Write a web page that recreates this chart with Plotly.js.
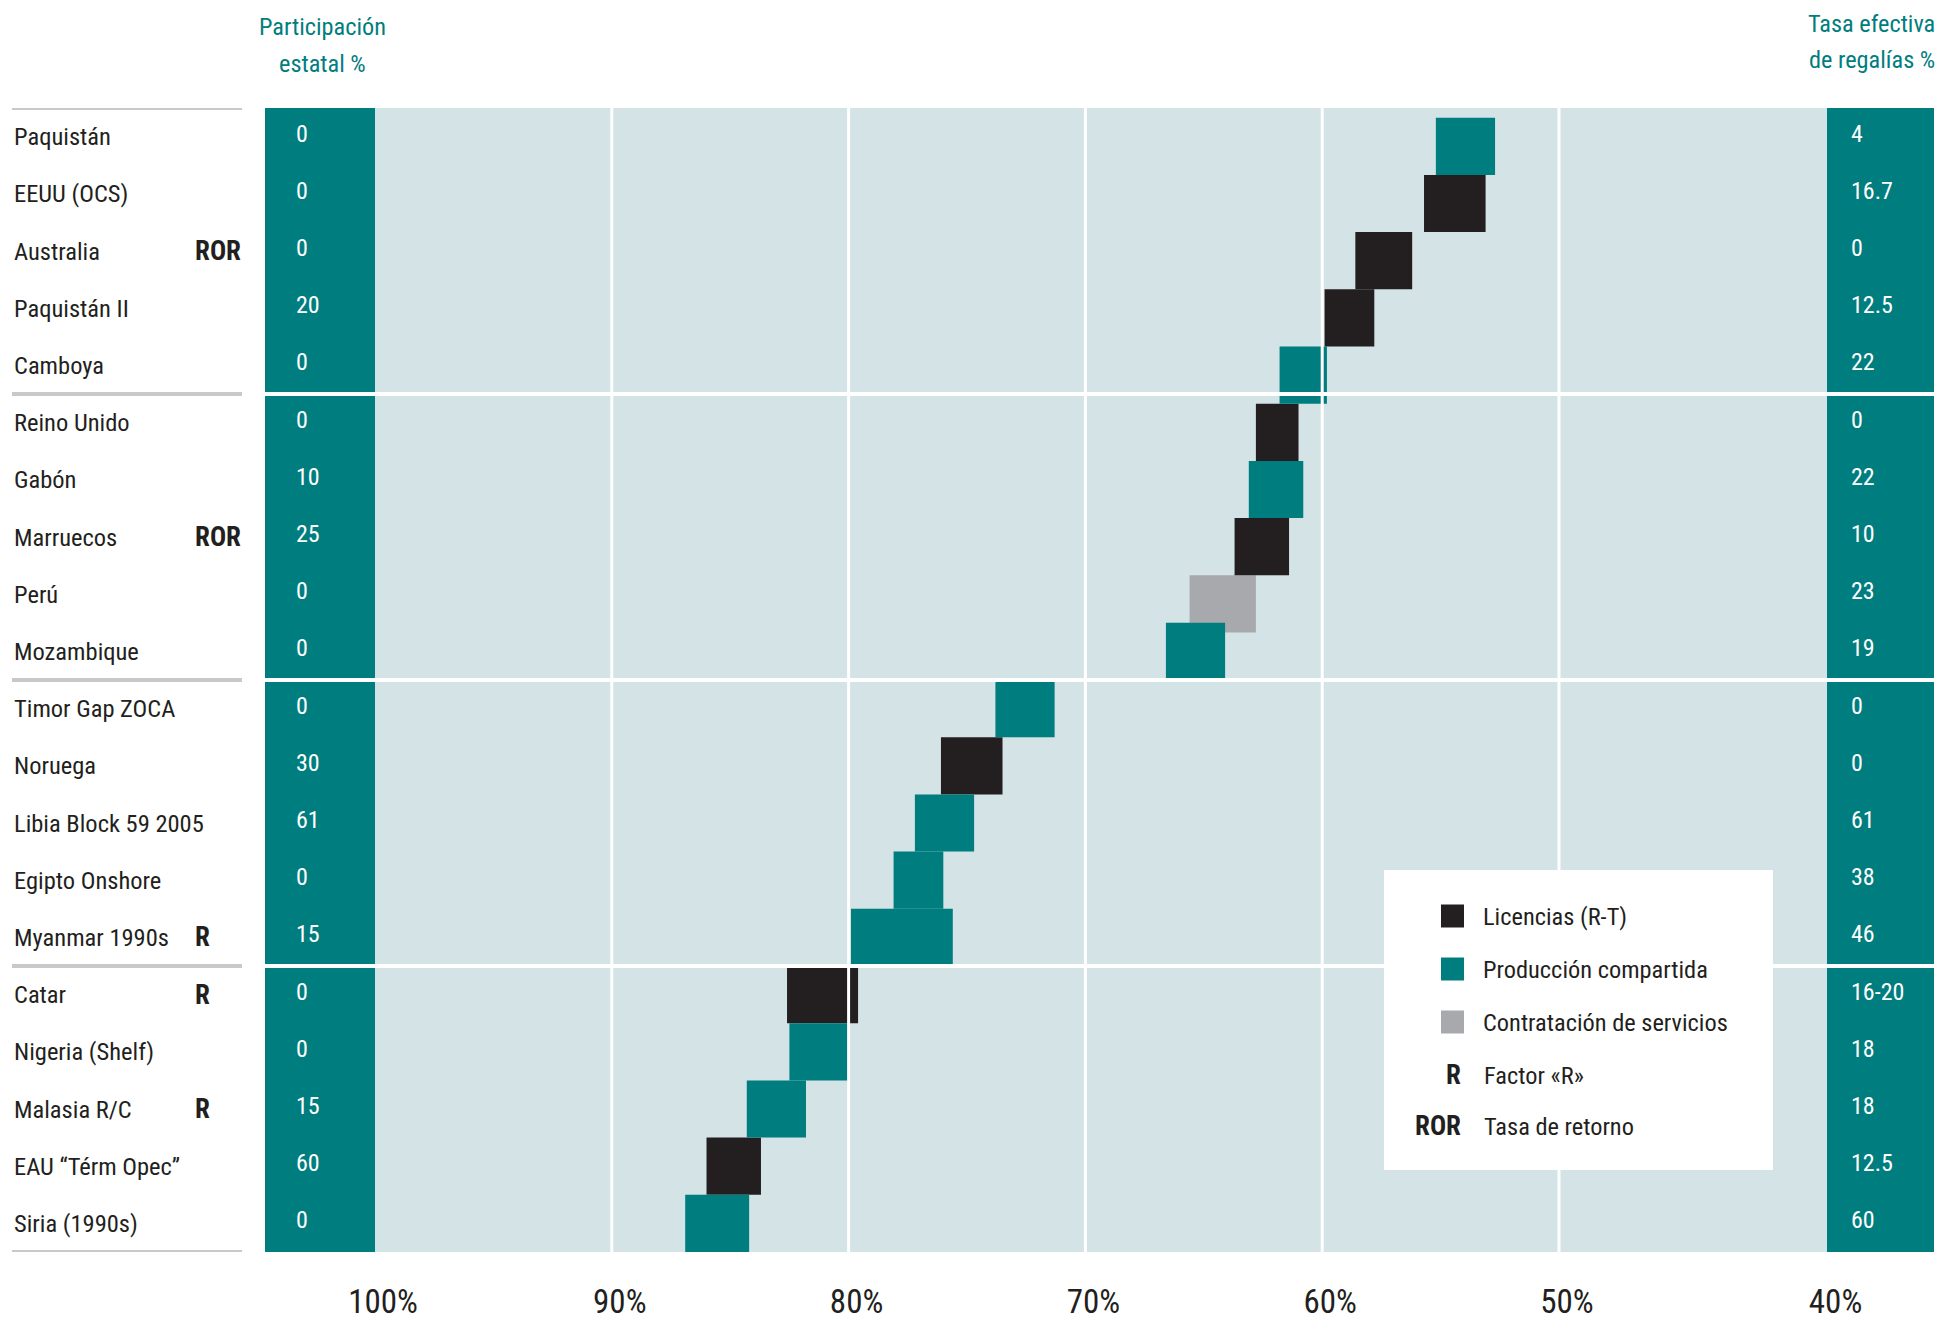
<!DOCTYPE html>
<html>
<head>
<meta charset="utf-8">
<script src="https://cdn.plot.ly/plotly-3.0.1.min.js"></script>
<style>html,body{margin:0;padding:0;background:#fff;}#chart{width:1940px;height:1322px;}</style>
</head>
<body>
<div id="chart"></div>
<script>
// ---------- data ----------
const countries = ['Paquistán','EEUU (OCS)','Australia','Paquistán II','Camboya',
  'Reino Unido','Gabón','Marruecos','Perú','Mozambique',
  'Timor Gap ZOCA','Noruega','Libia Block 59 2005','Egipto Onshore','Myanmar 1990s',
  'Catar','Nigeria (Shelf)','Malasia R/C','EAU “Térm Opec”','Siria (1990s)'];
const flags = ['','','ROR','','', '','','ROR','','', '','','','','R', 'R','','R','',''];
// L = Licencias (R-T), PC = Producción compartida, CS = Contratación de servicios
const regime = ['PC','L','L','L','PC', 'L','PC','L','CS','PC', 'PC','L','PC','PC','PC', 'L','PC','PC','L','PC'];
const takeLow  = [52.7,53.1,56.2,57.8,59.8, 61.0,60.8,61.4,62.8,64.1, 71.3,73.5,74.7,76.0,75.6, 79.6,80.0,81.8,83.7,84.2];
const takeHigh = [55.2,55.7,58.6,59.9,61.8, 62.8,63.1,63.7,65.6,66.6, 73.8,76.1,77.2,78.1,79.9, 82.6,82.5,84.3,86.0,86.9];
const stateShare  = ['0','0','0','20','0', '0','10','25','0','0', '0','30','61','0','15', '0','0','15','60','0'];
const royaltyRate = ['4','16.7','0','12.5','22', '0','22','10','23','19', '0','0','61','38','46', '16-20','18','18','12.5','60'];
const groupStarts = [5,10,15];
const tickValues = [100,90,80,70,60,50,38.66];
const tickLabels = ['100%','90%','80%','70%','60%','50%','40%'];
const regimeKeys = ['L','PC','CS'];
const regimeNames = ['Licencias (R-T)','Producción compartida','Contratación de servicios'];
const codeKeys = ['R','ROR'];
const codeNames = ['Factor «R»','Tasa de retorno'];
const leftTitleLines = ['Participación','estatal %'];
const rightTitleLines = ['Tasa efectiva','de regalías %'];

// ---------- font selection (narrow face with a regular/light weight) ----------
const cv = document.createElement('canvas').getContext('2d');
function tw(fam, size, txt, wt){ cv.font = (wt||400) + ' ' + size + 'px ' + fam; return cv.measureText(txt).width; }
function installed(name){
  const s='mmmmmmmmmmlli1WQ';
  return tw('"'+name+'", monospace',40,s)!==tw('monospace',40,s) || tw('"'+name+'", serif',40,s)!==tw('serif',40,s);
}
const options = [
  {f:'Liberation Sans Narrow', w:400},
  {f:'Roboto Condensed', w:400},
  {f:'Noto Sans Condensed', w:400},
  {f:'Open Sans Condensed', w:300},
  {f:'DejaVu Sans Condensed', w:400}
];
let pick = {f:'DejaVu Sans Condensed', w:400};
for(const o of options){
  if(!installed(o.f)) continue;
  const fm='"'+o.f+'"', s='Libia Block 59 2005 Contratación';
  if(tw(fm,40,s,o.w)!==tw(fm,40,s,700)){ pick=o; break; }
}
const FONT = '"'+pick.f+'","DejaVu Sans Condensed",sans-serif';
const WT = pick.w;
function fit(txt, target, maxSize, wt){ const w = tw(FONT, 100, txt, wt||WT); return Math.min(maxSize, Math.floor(100*target/w*10)/10); }
const SZ_LABEL = fit('Libia Block 59 2005', 190, 29);
const SZ_FLAG  = fit('ROR', 46, 29, 700);
const SZ_VAL   = fit('16.7', 42, 29);
const SZ_TITLE = fit('Participación', 127, 29);
const SZ_LEG   = fit('Contratación de servicios', 245, 29);
const SZ_TICK  = fit('100%', 70, 33);

// ---------- style ----------
const TEAL='#007d7e', BLACK='#231f20', GRAY='#a7a9ac', LIGHT='#d3e3e6', SEP='#c8c9ca';
const regimeColors = {L:BLACK, PC:TEAL, CS:GRAY};
const drawOrder = ['CS','L','PC'];
const W=1940, H=1322, ML=0, MR=6, MT=108, MB=70;
const PW=W-ML-MR, PH=H-MT-MB;
const px = x => (x-ML)/PW;
const py = y => (H-MB-y)/PH;
const fnt = (size, color, wt) => ({family:FONT, size:size, color:color, weight:wt||WT});
// in the upper half the boxes sit slightly low in their rows (the last one rests on the divider)
const rowOffset = i => (i < groupStarts[1]-1 ? -0.33 : -0.5);

// ---------- traces ----------
const traces = drawOrder.map(k=>{
  const idx = countries.map((c,i)=>i).filter(i=>regime[i]===k);
  return {
    type:'bar', orientation:'h', name:regimeNames[regimeKeys.indexOf(k)],
    y: idx.map(i=>countries[i]),
    base: idx.map(i=>takeLow[i]),
    x: idx.map(i=>+(takeHigh[i]-takeLow[i]).toFixed(2)),
    width: 1, offset: idx.map(rowOffset),
    marker:{color:regimeColors[k], line:{width:0}},
    hoverinfo:'skip', showlegend:false
  };
});

// ---------- shapes ----------
const shapes = [];
shapes.push({type:'rect', xref:'paper', yref:'paper', x0:px(265), x1:px(375), y0:0, y1:1, fillcolor:TEAL, line:{width:0}, layer:'below'});
shapes.push({type:'rect', xref:'paper', yref:'paper', x0:px(375), x1:px(1827), y0:0, y1:1, fillcolor:LIGHT, line:{width:0}, layer:'below'});
shapes.push({type:'rect', xref:'paper', yref:'paper', x0:px(1827), x1:1, y0:0, y1:1, fillcolor:TEAL, line:{width:0}, layer:'below'});
[90,80,70,60,50].forEach(v=>shapes.push({type:'line', xref:'x', yref:'paper', x0:v, x1:v, y0:0, y1:1, line:{color:'#ffffff', width:3}, layer:'above'}));
groupStarts.forEach(g=>shapes.push({type:'line', xref:'paper', yref:'y', x0:px(265), x1:1, y0:g-0.5, y1:g-0.5, line:{color:'#ffffff', width:4}, layer:'above'}));
[0].concat(groupStarts).concat([countries.length]).forEach(g=>shapes.push({type:'line', xref:'paper', yref:'y', x0:px(12), x1:px(242), y0:g-0.5, y1:g-0.5, line:{color:SEP, width:4}}));

// ---------- annotations ----------
const ann = [];
countries.forEach((c,i)=>{
  ann.push({xref:'paper', yref:'y', x:px(12), y:c, xanchor:'left', yanchor:'middle', text:c, showarrow:false, font:fnt(SZ_LABEL,BLACK)});
  if(flags[i]) ann.push({xref:'paper', yref:'y', x:px(193), y:c, xanchor:'left', yanchor:'middle', text:flags[i], showarrow:false, font:fnt(SZ_FLAG,BLACK,700)});
  ann.push({xref:'paper', yref:'y', x:px(294), y:c, xanchor:'left', yanchor:'middle', yshift:3, text:stateShare[i], showarrow:false, font:fnt(SZ_VAL,'#ffffff')});
  ann.push({xref:'paper', yref:'y', x:px(1849), y:c, xanchor:'left', yanchor:'middle', yshift:3, text:royaltyRate[i], showarrow:false, font:fnt(SZ_VAL,'#ffffff')});
});
const leftTitleY = [27, 64], rightTitleY = [23.5, 59.5];
leftTitleLines.forEach((t,i)=>ann.push({xref:'paper', yref:'paper', x:px(322), y:py(leftTitleY[i]), xanchor:'center', yanchor:'middle', text:t, showarrow:false, font:fnt(SZ_TITLE,TEAL)}));
rightTitleLines.forEach((t,i)=>ann.push({xref:'paper', yref:'paper', x:px(1937), y:py(rightTitleY[i]), xanchor:'right', yanchor:'middle', text:t, showarrow:false, font:fnt(SZ_TITLE,TEAL)}));

// legend box
shapes.push({type:'rect', xref:'paper', yref:'paper', x0:px(1384), x1:px(1773), y0:py(1170), y1:py(870), fillcolor:'#ffffff', line:{width:0}, layer:'above'});
const legY0 = 916, legStep = 53;
regimeKeys.forEach((k,ki)=>{
  const cy = legY0 + ki*legStep;
  shapes.push({type:'rect', xref:'paper', yref:'paper', x0:px(1441), x1:px(1464), y0:py(cy+11.5), y1:py(cy-11.5), fillcolor:regimeColors[k], line:{width:0}, layer:'above'});
  ann.push({xref:'paper', yref:'paper', x:px(1481), y:py(cy), xanchor:'left', yanchor:'middle', text:regimeNames[ki], showarrow:false, font:fnt(SZ_LEG,BLACK)});
});
codeKeys.forEach((k,ki)=>{
  const cy = legY0 + (regimeKeys.length+ki)*legStep - 2*ki;
  ann.push({xref:'paper', yref:'paper', x:px(1463), y:py(cy), xanchor:'right', yanchor:'middle', text:k, showarrow:false, font:fnt(SZ_FLAG,BLACK,700)});
  ann.push({xref:'paper', yref:'paper', x:px(1482), y:py(cy), xanchor:'left', yanchor:'middle', text:codeNames[ki], showarrow:false, font:fnt(SZ_LEG,BLACK)});
});

// ---------- layout ----------
const layout = {
  width:W, height:H,
  margin:{l:ML, r:MR, t:MT, b:MB, pad:0},
  paper_bgcolor:'#ffffff', plot_bgcolor:'rgba(0,0,0,0)',
  barmode:'overlay', showlegend:false,
  font:{family:FONT, color:BLACK},
  xaxis:{domain:[px(375),1], range:[100, 100-1559/23.68], tickvals:tickValues, ticktext:tickLabels,
         showgrid:false, zeroline:false, showline:false, ticks:'', ticklabelstandoff:27, ticklabelshift:-8,
         tickfont:fnt(SZ_TICK,BLACK), fixedrange:true},
  yaxis:{domain:[0,1], type:'category', categoryorder:'array', categoryarray:countries,
         range:[countries.length-0.5, -0.5], showticklabels:false, showgrid:false, zeroline:false, showline:false, ticks:'', fixedrange:true},
  shapes:shapes, annotations:ann
};
Plotly.newPlot('chart', traces, layout, {displayModeBar:false, staticPlot:true});
</script>
</body>
</html>
